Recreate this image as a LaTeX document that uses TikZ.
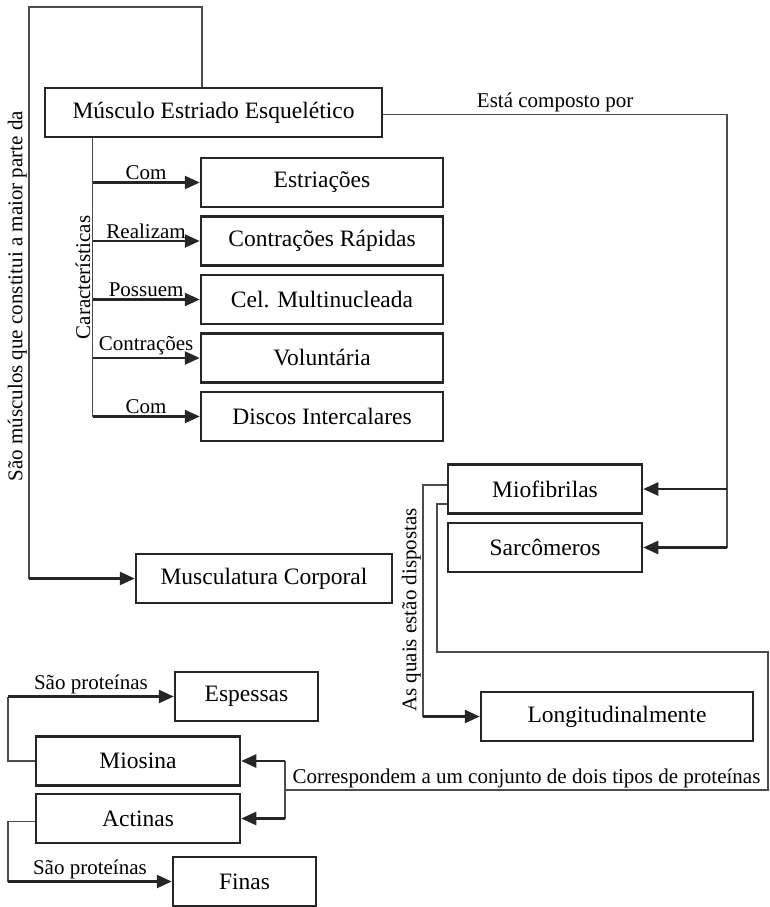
\documentclass[tikz,border=0pt]{standalone}
\usepackage{fontspec}
\setmainfont{Liberation Serif}
\usetikzlibrary{arrows.meta,positioning}

\begin{document}
\begin{tikzpicture}[
                    x=1pt, y=-1pt,
                    >={Triangle[length=15pt,width=13pt]},
                    wire/.style={draw=black!70, line width=1.1pt},
                    link/.style={->, draw=black!85, line width=2.5pt},
                    lbl/.style={font=\rmfamily\fontsize{21}{25}\selectfont, inner sep=1.5pt},
                    node distance=7pt
                ]
                \useasboundingbox (0,0) rectangle (769,907);

                \begin{scope}[
                        every node/.style={draw=black!85, line width=2.5pt, minimum height=49pt,
                                           inner sep=0pt, font=\rmfamily\fontsize{23.5}{28}\selectfont}
                    ]
                    \node[minimum width=337pt] (musculo) at (213.5,112.5) {Músculo Estriado Esquelético} ;
                    \node[minimum width=242pt] (estriacoes) at (322,182.5) {Estriações} ;
                    \node[minimum width=242pt] (contracoes) [below=of estriacoes] {Contrações Rápidas} ;
                    \node[minimum width=242pt] (celulas) [below=of contracoes] {Cel. Multinucleada} ;
                    \node[minimum width=242pt] (voluntaria) [below=of celulas] {Voluntária} ;
                    \node[minimum width=242pt] (discos) [below=of voluntaria] {Discos Intercalares} ;
                    \node[minimum width=256pt] (musculatura) at (264,578.5) {Musculatura Corporal} ;
                    \node[minimum width=194pt] (miofibrilas) at (545,489) {Miofibrilas} ;
                    \node[minimum width=194pt] (sarcomeros) [below=of miofibrilas] {Sarcômeros} ;
                    \node[minimum width=272pt] (longitudinal) at (617,716.5) {Longitudinalmente} ;
                    \node[minimum width=143pt] (espessas) at (246.5,696.5) {Espessas} ;
                    \node[minimum width=204pt] (miosina) at (138,761) {Miosina} ;
                    \node[minimum width=204pt] (actinas) [below=6pt of miosina] {Actinas} ;
                    \node[minimum width=143pt] (finas) at (244.5,881.5) {Finas} ;
                \end{scope}

                % corner points of the connectors
                \coordinate (top-left) at (29,7) ;
                \coordinate (stem) at (92.5,0) ;
                \coordinate (right-side) at (727,0) ;
                \coordinate (dispostas) at (423,0) ;
                \coordinate (far-right) at (768,652) ;
                \coordinate (tipos) at (285,790) ;
                \coordinate (left-side) at (8,0) ;

                % musculo -> musculatura
                \draw[wire] ([xshift=-11.5pt]musculo.north) |- (top-left) -- (top-left |- musculatura.west)
                    node[lbl, pos=0.506, rotate=90, anchor=south] {São músculos que constitui a maior parte da} ;
                \draw[link] (top-left |- musculatura.west) -- (musculatura.west) ;

                % caracteristicas
                \draw[wire] (stem |- musculo.south) -- (stem |- discos.west)
                    node[lbl, pos=0.5, rotate=90, anchor=south] {Características} ;
                \foreach \target/\rel in {estriacoes/Com, contracoes/Realizam, celulas/Possuem,
                                          voluntaria/Contrações, discos/Com}
                    \draw[link] (stem |- \target.west) -- (\target.west) node[lbl, midway, above] {\rel} ;

                % musculo -> miofibrilas, sarcomeros
                \draw[wire] ([yshift=-2pt]musculo.east) -- ([yshift=-2pt]right-side |- musculo.east)
                    node[lbl, midway, above] {Está composto por}
                    -- (right-side |- sarcomeros.east) ;
                \draw[link] (right-side |- miofibrilas.east) -- (miofibrilas.east) ;
                \draw[link] (right-side |- sarcomeros.east) -- (sarcomeros.east) ;

                % miofibrilas -> longitudinalmente
                \draw[wire] ([yshift=4pt]miofibrilas.west) -| (dispostas |- longitudinal.west)
                    node[lbl, pos=0.77, rotate=90, anchor=south] {As quais estão dispostas} ;
                \draw[link] (dispostas |- longitudinal.west) -- (longitudinal.west) ;

                % miofibrilas -> miosina, actinas
                \draw[wire] ([yshift=-15pt]miofibrilas.west) -| (437,652) -- (far-right) |- (tipos)
                    node[lbl, pos=0.75, above] {Correspondem a um conjunto de dois tipos de proteínas} ;
                \draw[wire] (tipos |- miosina.east) -- (tipos |- actinas.east) ;
                \draw[link] (tipos |- miosina.east) -- (miosina.east) ;
                \draw[link] (tipos |- actinas.east) -- (actinas.east) ;

                % proteinas
                \draw[wire] (miosina.west) -| (left-side |- espessas.west) ;
                \draw[link] (left-side |- espessas.west) -- (espessas.west) node[lbl, midway, above] {São proteínas} ;
                \draw[wire] ([yshift=-3pt]actinas.west) -| (left-side |- finas.west) ;
                \draw[link] (left-side |- finas.west) -- (finas.west) node[lbl, midway, above] {São proteínas} ;
            \end{tikzpicture}
\end{document}
